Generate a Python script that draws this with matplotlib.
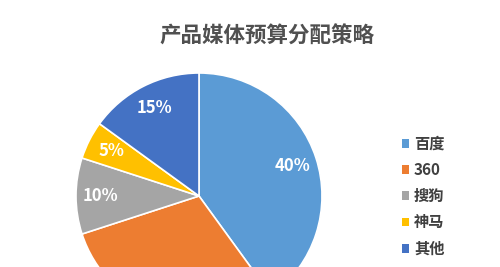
import matplotlib
matplotlib.use("Agg")
import matplotlib.pyplot as plt

plt.rcParams['font.family'] = ['Noto Sans CJK SC', 'DejaVu Sans']

categories = ["百度", "360", "搜狗", "神马", "其他"]
shares = [40, 30, 10, 5, 15]
colors = ["#5B9BD5", "#ED7D31", "#A5A5A5", "#FFC000", "#4472C4"]
title = "产品媒体预算分配策略"

W, H = 500, 267
fig = plt.figure(figsize=(W / 100, H / 100), dpi=100)
ax = fig.add_axes([0, 0, 1, 1])

wedges, texts = ax.pie(
    shares,
    colors=colors,
    startangle=90,
    counterclock=False,
    center=(199, H - 196),
    radius=123,
    labels=[f"{v}%" for v in shares],
    labeldistance=0.8,
    wedgeprops=dict(edgecolor="white", linewidth=1.2),
    textprops=dict(color="white", fontsize=12, fontweight="bold"),
)
# labels that would land below the visible area are dropped
for t in texts:
    t.set_ha("center")
    t.set_va("center")
    if t.get_position()[1] < 12:
        t.set_visible(False)

ax.set_xlim(0, W)
ax.set_ylim(0, H)
ax.set_aspect("equal")
ax.axis("off")

fig.text(267 / W, 1 - 36 / H, title, ha="center", va="center",
         fontsize=15.5, fontweight="bold", color="#505050")

leg = ax.legend(
    wedges, categories,
    loc="upper left",
    bbox_to_anchor=(388 / W, 1 - 122 / H),
    bbox_transform=fig.transFigure,
    frameon=False,
    handlelength=0.5, handleheight=0.5, handletextpad=0.3,
    labelspacing=0.67,
    prop=dict(size=11, weight="bold"),
    labelcolor="#404040",
)
for h in leg.legend_handles:
    h.set_edgecolor("none")

fig.savefig("out.png", dpi=100, facecolor="white")
